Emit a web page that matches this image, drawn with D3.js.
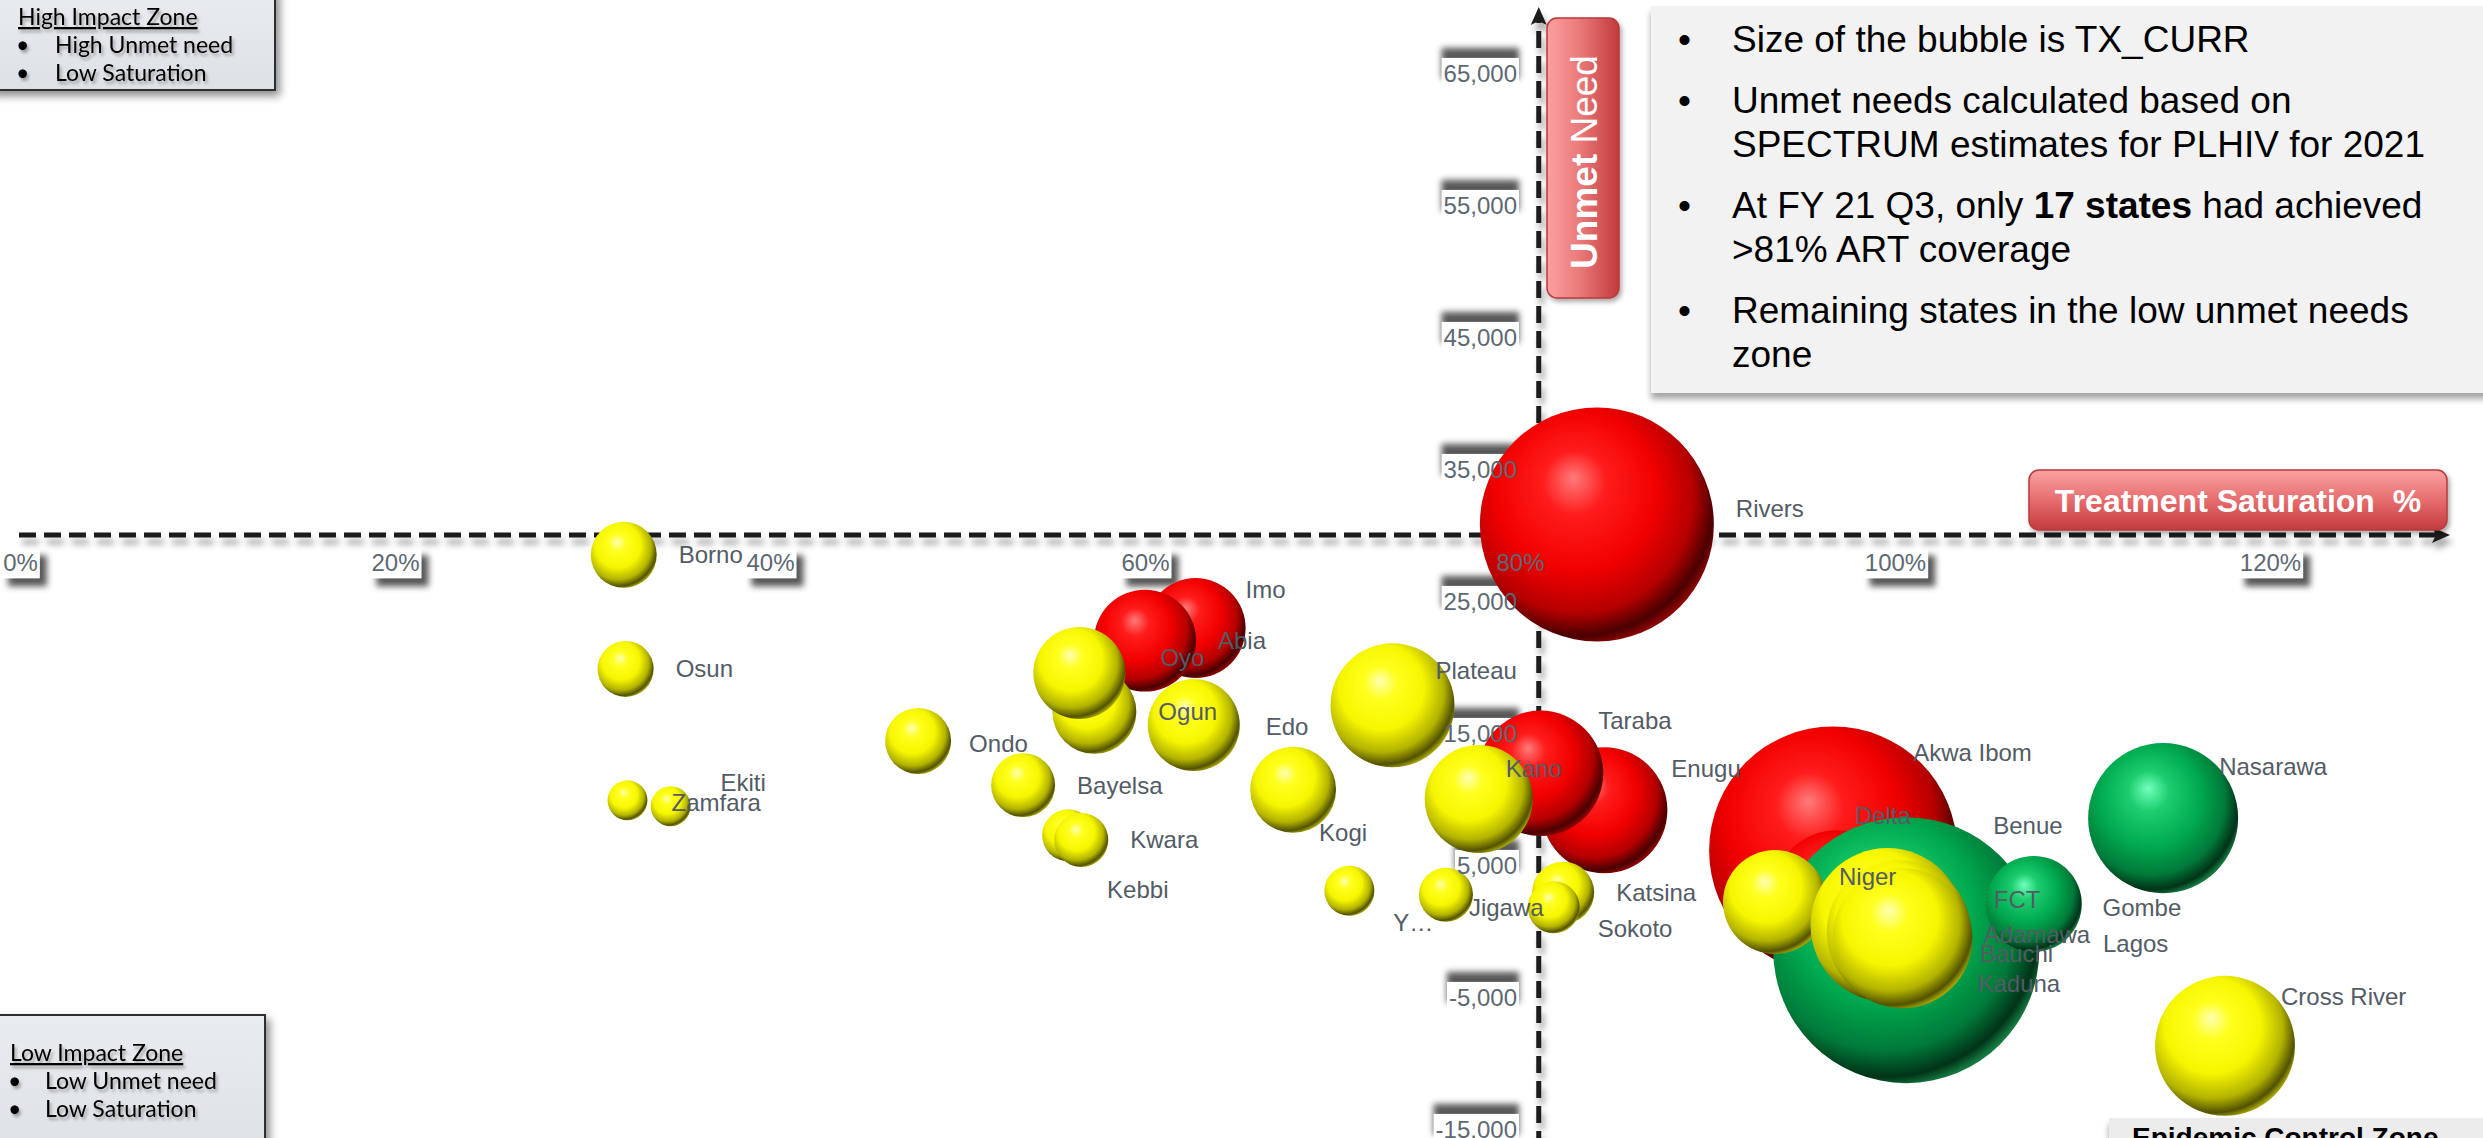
<!DOCTYPE html>
<html>
<head>
<meta charset="utf-8">
<script src="https://cdn.jsdelivr.net/npm/d3@7"></script>
<style>
  html, body { margin: 0; padding: 0; background: #fff; overflow: hidden; }
  svg { display: block; }
</style>
</head>
<body>
<svg id="chart" width="2483" height="1138"></svg>
<script>
// ---------------- data ----------------
// Treatment saturation (TX_CURR / PLHIV, %), unmet need (PLHIV not on treatment), TX_CURR, colour group
const states = [
  "Rivers", "Akwa Ibom", "Delta", "Imo", "Abia", "Enugu", "Taraba",
  "Benue", "Lagos", "Gombe", "FCT", "Nasarawa",
  "Borno", "Osun", "Ekiti", "Zamfara", "Ondo", "Bayelsa", "Kebbi", "Kwara",
  "Ogun", "Oyo", "Edo", "Kogi", "Plateau", "Yobe", "Jigawa", "Kano",
  "Katsina", "Sokoto", "Niger", "Adamawa", "Bauchi", "Kaduna", "Cross River"
];
const saturation = [
  84.1, 96.7, 96.9, 62.7, 60.0, 84.5, 81.1,
  100.6, 107.4, 107.4, 107.4, 114.3,
  32.2, 32.3, 32.4, 34.7, 47.9, 53.5, 55.9, 56.6,
  57.3, 56.5, 62.6, 67.9, 73.2, 70.9, 76.05, 77.8,
  82.3, 81.8, 93.6, 99.6, 100.2, 100.4, 117.6
];
const unmetNeed = [
  30800, 6100, 2700, 22950, 22000, 9150, 11950,
  -1450, 1900, 2000, 2050, 8550,
  28500, 19850, 9900, 9450, 14400, 11050, 7250, 6900,
  16600, 19550, 15600, 10700, 17100, 3050, 2750, 10000,
  2900, 1800, 2200, 450, -100, -550, -8700
];
const txCurr = [
  123800, 139100, 38200, 22600, 23500, 35900, 35500,
  160000, 18500, 19000, 20840, 50900,
  9850, 7100, 3600, 3600, 9850, 9250, 6100, 6600,
  15950, 19150, 19150, 16700, 34750, 5650, 6600, 26400,
  8700, 6100, 24450, 53600, 46900, 44300, 44300
];
const group = [
  "red", "red", "red", "red", "red", "red", "red",
  "green", "green", "green", "green", "green",
  "yellow", "yellow", "yellow", "yellow", "yellow", "yellow", "yellow", "yellow",
  "yellow", "yellow", "yellow", "yellow", "yellow", "yellow", "yellow", "yellow",
  "yellow", "yellow", "yellow", "yellow", "yellow", "yellow", "yellow"
];
const groupOrder = ["red", "green", "yellow"];

const xTicks = [0, 20, 40, 60, 80, 100, 120];
const yTicks = [65000, 55000, 45000, 35000, 25000, 15000, 5000, -5000, -15000];
const saturationCross = 81;     // vertical axis crosses at 81% coverage
const unmetCross = 30000;       // horizontal axis crosses here

const shortLabel = { "Yobe": "Y\u2026" };

const notes = [
  [[["Size of the bubble is TX_CURR", false]]],
  [[["Unmet needs calculated based on", false]],
   [["SPECTRUM estimates for PLHIV for 2021", false]]],
  [[["At FY 21 Q3, only ", false], ["17 states", true], [" had achieved", false]],
   [[">81% ART coverage", false]]],
  [[["Remaining states in the low unmet needs", false]],
   [["zone", false]]]
];
const highZone = ["High Impact Zone", "High Unmet need", "Low Saturation"];
const lowZone = ["Low Impact Zone", "Low Unmet need", "Low Saturation"];
const controlZone = "Epidemic Control Zone";

// ---------------- layout ----------------
const W = 2483, H = 1138;
const FONT = "'Liberation Sans', Arial, sans-serif";
const ZONE_FONT = "Lato, 'Open Sans', sans-serif";
const labelGap = 22;
// hand placement of crowded data labels, px offsets from the default right-hand position
const labelNudge = {
  "Ekiti": [51, -18], "Zamfara": [-41, -4], "Ondo": [-4, 3], "Kebbi": [-9, 54],
  "Oyo": [13, -15], "Imo": [-22, -38], "Edo": [4, 2], "Kogi": [-39, 43],
  "Plateau": [-41, -35], "Yobe": [-3, 32], "Jigawa": [-26, 13], "Kano": [-49, -30],
  "Taraba": [-27, -53], "Enugu": [-18, -42], "Sokoto": [-4, 21], "Rivers": [0, -16],
  "Akwa Ibom": [-66, -98], "Delta": [-69, -80], "Benue": [-68, -125], "Niger": [-10, -25],
  "Adamawa": [-3, 10], "Bauchi": [-13, 21], "Kaduna": [-17, 45], "FCT": [-110, -4],
  "Gombe": [1, 3], "Lagos": [2, 38], "Nasarawa": [-41, -52], "Cross River": [-36, -49]
};

const x = d3.scaleLinear().domain([0, 130]).range([20, 2457.5]);
const y = d3.scaleLinear().domain([-15000, 65000]).range([1129, 73]);
const r = d3.scaleSqrt().domain([0, 160000]).range([0, 133]);

const svg = d3.select("#chart");
const defs = svg.append("defs");

// sphere shading per colour group
const ballColours = {
  red:    ["#ff7b7b", "#ff1c1c", "#f20000", "#b50000", "#4a0000", "#8c0505"],
  green:  ["#72ffbe", "#1ccd6e", "#00a94f", "#007a39", "#003318", "#157a40"],
  yellow: ["#ffffb4", "#ffff1e", "#f6f600", "#b3b300", "#525200", "#a3a300"]
};
Object.entries(ballColours).forEach(([k, c]) => {
  const g = defs.append("radialGradient").attr("id", "ball-" + k)
    .attr("cx", "42%").attr("cy", "40%").attr("r", "62%")
    .attr("fx", "40%").attr("fy", "30%");
  [[0, c[0]], [0.22, c[1]], [0.55, c[2]], [0.8, c[3]], [0.94, c[4]], [1, c[5]]]
    .forEach(([o, col]) => g.append("stop").attr("offset", o).attr("stop-color", col));
});

const tagH = defs.append("linearGradient").attr("id", "tag-h").attr("x1", 0).attr("x2", 1).attr("y1", 0).attr("y2", 0);
tagH.append("stop").attr("offset", 0).attr("stop-color", "#fd9f9f");
tagH.append("stop").attr("offset", 0.45).attr("stop-color", "#ea7a7a");
tagH.append("stop").attr("offset", 1).attr("stop-color", "#c2393b");
const tagV = defs.append("linearGradient").attr("id", "tag-v").attr("x1", 0).attr("x2", 0).attr("y1", 0).attr("y2", 1);
tagV.append("stop").attr("offset", 0).attr("stop-color", "#fba2a2");
tagV.append("stop").attr("offset", 0.5).attr("stop-color", "#e66d6e");
tagV.append("stop").attr("offset", 1).attr("stop-color", "#c33a3c");
const zoneFill = defs.append("linearGradient").attr("id", "zone-fill").attr("x1", 0).attr("x2", 0).attr("y1", 0).attr("y2", 1);
zoneFill.append("stop").attr("offset", 0).attr("stop-color", "#e9ecef");
zoneFill.append("stop").attr("offset", 1).attr("stop-color", "#dde2e6");

function dropShadow(id, dx, dy, sd, op) {
  const f = defs.append("filter").attr("id", id)
    .attr("x", "-30%").attr("y", "-30%").attr("width", "160%").attr("height", "160%");
  f.append("feDropShadow").attr("dx", dx).attr("dy", dy).attr("stdDeviation", sd)
    .attr("flood-color", "#000").attr("flood-opacity", op);
}
dropShadow("axis-shadow", 3, 7, 3, 0.35);
dropShadow("box-shadow", 4, 5, 4, 0.45);
dropShadow("note-shadow", 0, 6, 3, 0.35);
dropShadow("tag-shadow", 2, 3, 2.5, 0.35);
dropShadow("text-shadow", 2, 3, 1.8, 0.3);
defs.append("filter").attr("id", "blur3")
  .attr("x", "-30%").attr("y", "-60%").attr("width", "160%").attr("height", "220%")
  .append("feGaussianBlur").attr("stdDeviation", 3.2);

const layerBoxes = svg.append("g");
const layerTickBoxes = svg.append("g");
const layerAxes = svg.append("g");
const layerBubbles = svg.append("g");
const layerTicks = svg.append("g");
const layerLabels = svg.append("g");
const layerTags = svg.append("g");
const layerZones = svg.append("g");

// ---------------- notes panel ----------------
layerBoxes.append("rect")
  .attr("x", 1651).attr("y", 6).attr("width", W - 1651 + 20).attr("height", 387)
  .attr("fill", "#f2f2f2").attr("filter", "url(#note-shadow)");
{
  let yy = 52;
  notes.forEach(par => {
    layerBoxes.append("text").attr("x", 1678).attr("y", yy)
      .attr("font-family", FONT).attr("font-size", 37).attr("fill", "#000").text("\u2022");
    par.forEach(line => {
      const t = layerBoxes.append("text").attr("x", 1732).attr("y", yy)
        .attr("font-family", FONT).attr("font-size", 37).attr("fill", "#000")
        .style("white-space", "pre");
      line.forEach(([s, b]) => t.append("tspan").attr("font-weight", b ? "bold" : "normal").text(s));
      yy += 44;
    });
    yy += 17;
  });
}

// ---------------- axes (dashed cross) ----------------
const axisY = y(unmetCross), axisX = x(saturationCross);
const gAx = layerAxes.append("g").attr("filter", "url(#axis-shadow)");
const hTip = x(129.6), vTip = y(70000);
gAx.append("line").attr("x1", x(0) - 1).attr("x2", hTip - 14).attr("y1", axisY).attr("y2", axisY)
  .attr("stroke", "#1b1b1b").attr("stroke-width", 5).attr("stroke-dasharray", "17,8");
gAx.append("path").attr("d", `M${hTip},${axisY} L${hTip - 18},${axisY - 8} L${hTip - 14},${axisY} L${hTip - 18},${axisY + 8} Z`)
  .attr("fill", "#1b1b1b");
gAx.append("line").attr("x1", axisX).attr("x2", axisX).attr("y1", H + 10).attr("y2", vTip + 14)
  .attr("stroke", "#1b1b1b").attr("stroke-width", 5).attr("stroke-dasharray", "17,8");
gAx.append("path").attr("d", `M${axisX},${vTip} L${axisX - 8},${vTip + 18} L${axisX},${vTip + 14} L${axisX + 8},${vTip + 18} Z`)
  .attr("fill", "#1b1b1b");

// ---------------- tick labels ----------------
const tickColour = "#5d6872";
const gx = layerTicks.append("g").attr("transform", `translate(0,${axisY + 28})`)
  .call(d3.axisBottom(x).tickValues(xTicks).tickSize(0).tickPadding(0).tickFormat(d => d + "%"));
const gy = layerTicks.append("g").attr("transform", `translate(1517,0)`)
  .call(d3.axisLeft(y).tickValues(yTicks).tickSize(0).tickPadding(0)
    .tickFormat(d => (d < 0 ? "-" : "") + d3.format(",")(Math.abs(d))));
[gx, gy].forEach(g => {
  g.select(".domain").remove();
  g.attr("font-family", FONT).attr("font-size", 24);
  g.selectAll("text").attr("fill", tickColour).attr("dy", "0.35em");
});
gx.selectAll("text").attr("y", 0);
gy.selectAll("text").attr("x", 0);

function tickBoxes(g, ox, oy, sdx, sdy) {
  g.selectAll(".tick").each(function () {
    const tick = d3.select(this);
    const tr = tick.attr("transform").match(/translate\(([-\d.]+),\s*([-\d.]+)\)/);
    const tx = +tr[1] + ox, ty = +tr[2] + oy;
    const bb = tick.select("text").node().getBBox();
    const bx = tx + bb.x - 2, by = ty + bb.y - 2, bw = bb.width + 4, bh = bb.height + 4;
    layerTickBoxes.append("rect").attr("x", bx + sdx).attr("y", by + sdy)
      .attr("width", bw).attr("height", bh).attr("fill", "#3a3a3a").attr("opacity", 0.85)
      .attr("filter", "url(#blur3)");
    layerTickBoxes.append("rect").attr("x", bx).attr("y", by)
      .attr("width", bw).attr("height", bh).attr("fill", "#fff");
  });
}
tickBoxes(gx, 0, axisY + 28, 7, 8);
tickBoxes(gy, 1517, 0, 0, -10);

// ---------------- bubbles ----------------
const rows = states.map((s, i) => ({
  state: s, sat: saturation[i], unmet: unmetNeed[i], tx: txCurr[i], grp: group[i], idx: i
}));
const drawn = rows.slice().sort((a, b) =>
  groupOrder.indexOf(a.grp) - groupOrder.indexOf(b.grp) || a.idx - b.idx);

layerBubbles.selectAll("circle").data(drawn).join("circle")
  .attr("cx", d => x(d.sat)).attr("cy", d => y(d.unmet)).attr("r", d => r(d.tx))
  .attr("fill", d => `url(#ball-${d.grp})`);

layerLabels.selectAll("text").data(drawn).join("text")
  .attr("x", d => x(d.sat) + r(d.tx) + labelGap + (labelNudge[d.state] || [0, 0])[0])
  .attr("y", d => y(d.unmet) + (labelNudge[d.state] || [0, 0])[1])
  .attr("dy", "0.35em")
  .attr("font-family", FONT).attr("font-size", 24).attr("fill", "#535b65")
  .text(d => shortLabel[d.state] || d.state);

// ---------------- axis tags ----------------
layerTags.append("rect").attr("x", 1547).attr("y", 18).attr("width", 72).attr("height", 280)
  .attr("rx", 10).attr("fill", "url(#tag-h)").attr("stroke", "#b83a3a").attr("stroke-width", 1.5)
  .attr("filter", "url(#tag-shadow)");
const un = layerTags.append("text").attr("transform", "translate(1584,162) rotate(-90)")
  .attr("text-anchor", "middle").attr("dy", "0.36em")
  .attr("font-family", FONT).attr("font-size", 37).attr("fill", "#fff").style("white-space", "pre");
un.append("tspan").attr("font-weight", "bold").text("Unmet");
un.append("tspan").text(" Need");

layerTags.append("rect").attr("x", 2029).attr("y", 470).attr("width", 418).attr("height", 60)
  .attr("rx", 10).attr("fill", "url(#tag-v)").attr("stroke", "#b83a3a").attr("stroke-width", 1.5)
  .attr("filter", "url(#tag-shadow)");
layerTags.append("text").attr("x", 2238).attr("y", 500).attr("dy", "0.36em")
  .attr("text-anchor", "middle").attr("font-family", FONT).attr("font-size", 32)
  .attr("font-weight", "bold").attr("fill", "#fff").style("white-space", "pre")
  .text("Treatment Saturation  %");

// ---------------- zone call-outs ----------------
function zoneBox(bx, by, bw, bh, lines, tx, y0, bulletX, textX) {
  const g = layerZones.append("g");
  g.append("rect").attr("x", bx).attr("y", by).attr("width", bw).attr("height", bh)
    .attr("fill", "url(#zone-fill)").attr("stroke", "#2d2d2d").attr("stroke-width", 2)
    .attr("filter", "url(#box-shadow)");
  const t = g.append("g").attr("font-family", ZONE_FONT).attr("font-size", 23).attr("fill", "#000")
    .attr("filter", "url(#text-shadow)");
  t.append("text").attr("x", tx).attr("y", y0).attr("text-decoration", "underline").text(lines[0]);
  lines.slice(1).forEach((s, i) => {
    const yy = y0 + 28 * (i + 1);
    t.append("text").attr("x", bulletX).attr("y", yy).text("\u2022");
    t.append("text").attr("x", textX).attr("y", yy).text(s);
  });
}
zoneBox(-10, -10, 285, 100, highZone, 18, 25, 16, 55);
zoneBox(-10, 1015, 275, 140, lowZone, 10, 1061, 8, 45);

const ec = layerZones.append("g");
ec.append("rect").attr("x", 2109).attr("y", 1118).attr("width", 400).attr("height", 60)
  .attr("fill", "#ececec").attr("filter", "url(#note-shadow)");
ec.append("text").attr("x", 2132).attr("y", 1147).attr("font-family", FONT)
  .attr("font-size", 28).attr("font-weight", "bold").attr("fill", "#000").text(controlZone);
</script>
</body>
</html>
